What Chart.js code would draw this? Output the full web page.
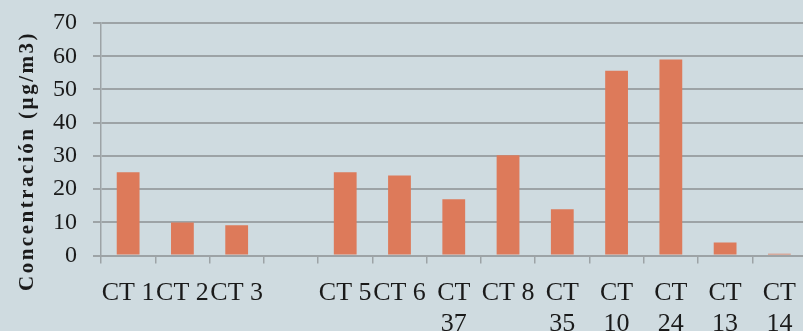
<!DOCTYPE html>
<html>
<head>
<meta charset="utf-8">
<script src="https://cdn.jsdelivr.net/npm/chart.js@4"></script>
<style>
  html, body { margin: 0; padding: 0; overflow: hidden; background: #cfdbe0; }
  canvas { display: block; }
</style>
</head>
<body>
<canvas id="chart" width="810" height="331"></canvas>
<script>
// Sampling points and measured concentration at each one
const categories = ['CT 1', 'CT 2', 'CT 3', '', 'CT 5', 'CT 6', 'CT 37', 'CT 8', 'CT 35', 'CT 10', 'CT 24', 'CT 13', 'CT 14'];
const concentrations = [25.1, 9.9, 9.1, null, 25.1, 24.1, 16.9, 30.2, 13.9, 55.6, 59.0, 3.9, 0.5];
const yTicks = [0, 10, 20, 30, 40, 50, 60, 70];
const yTitle = 'Concentración (µg/m3)';

const GRID = '#9da3a6';
const TEXT = '#1a1a1a';
const BAR = '#dd7a5a';
const SERIF = "'Liberation Serif', 'Times New Roman', Times, serif";

// Long station names break onto two lines under their bar
const tickLabels = categories.map(c => (c.length > 4 ? c.split(' ') : c));

// Rotated, letter-spaced axis title drawn beside the value axis
const axisTitle = {
  id: 'axisTitle',
  afterDraw(chart) {
    const ctx = chart.ctx;
    ctx.save();
    ctx.translate(28, 161);
    ctx.rotate(-Math.PI / 2);
    ctx.font = 'bold 21px ' + SERIF;
    if ('letterSpacing' in ctx) ctx.letterSpacing = '2.5px';
    ctx.fillStyle = TEXT;
    ctx.textAlign = 'center';
    ctx.textBaseline = 'middle';
    ctx.fillText(yTitle, 0, 0);
    ctx.restore();
  }
};

function draw() {
  new Chart(document.getElementById('chart'), {
    type: 'bar',
    data: {
      labels: tickLabels,
      datasets: [{
        data: concentrations,
        backgroundColor: BAR,
        borderWidth: 0,
        categoryPercentage: 1,
        barPercentage: 0.42
      }]
    },
    options: {
      responsive: false,
      devicePixelRatio: 1,
      animation: false,
      layout: { padding: { top: 23, right: 0, bottom: 0, left: 0 } },
      plugins: {
        legend: { display: false },
        tooltip: { enabled: false }
      },
      scales: {
        x: {
          offset: true,
          grid: {
            display: true,
            offset: true,
            drawOnChartArea: false,
            drawTicks: true,
            tickLength: 8,
            color: GRID,
            lineWidth: 1.5
          },
          border: { display: true, color: GRID, width: 2 },
          ticks: {
            color: TEXT,
            font: { family: SERIF, size: 26, lineHeight: 1.2 },
            padding: 14,
            maxRotation: 0,
            minRotation: 0,
            autoSkip: false
          },
          afterFit(scale) { scale.height = 75.5; }
        },
        y: {
          min: 0,
          max: 70,
          afterBuildTicks(scale) { scale.ticks = yTicks.map(v => ({ value: v })); },
          grid: {
            color: GRID,
            lineWidth: 2,
            tickLength: 8,
            drawTicks: true
          },
          border: { display: true, color: GRID, width: 1.5 },
          ticks: {
            color: TEXT,
            font: { family: SERIF, size: 24 },
            padding: 16
          },
          afterFit(scale) {
            scale.width = 101;
            // the top and bottom labels may overhang the plot edges
            scale.paddingTop = 0;
            scale.paddingBottom = 0;
          }
        }
      }
    },
    plugins: [axisTitle]
  });
}

Promise.all([
  document.fonts.load("24px 'Liberation Serif'"),
  document.fonts.load("bold 21px 'Liberation Serif'")
]).then(draw, draw);
</script>
</body>
</html>
